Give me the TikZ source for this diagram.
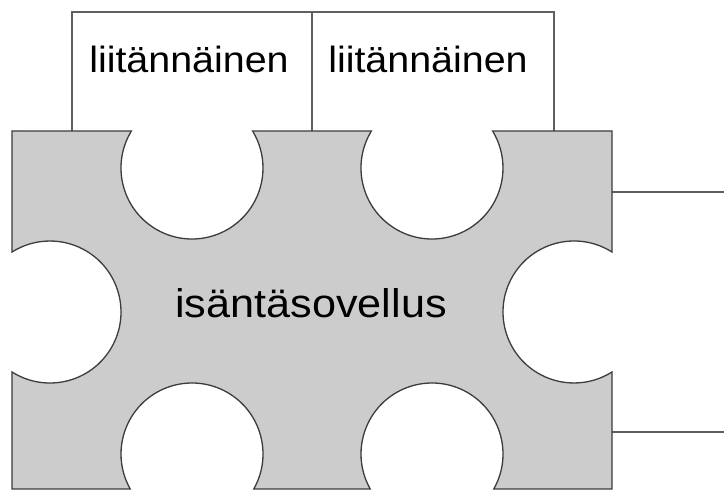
\documentclass[tikz,border=0pt]{standalone}
\usepackage{fontspec}
\setmainfont{Liberation Sans}[FakeStretch=1.08]
\begin{document}
\begin{tikzpicture}[x=1pt,y=1pt,
  outline/.style={draw={rgb,255:red,60;green,60;blue,60}, line width=1.3pt, line join=miter},
  boxline/.style={draw={rgb,255:red,95;green,95;blue,95}, line width=1.2pt},
  hostfill/.style={fill={rgb,255:red,204;green,204;blue,204}},
  toplabel/.style={anchor=base, inner sep=0pt, font=\fontsize{36.5}{40}\selectfont},
  hostlabel/.style={anchor=base, inner sep=0pt, font=\fontsize{40}{44}\selectfont}]
\useasboundingbox (0,0) rectangle (724,491);

% notch centres (radius 71)
\coordinate (t1) at (192,323);
\coordinate (t2) at (432,323);
\coordinate (lf) at (50,179);
\coordinate (rt) at (574,179);
\coordinate (b1) at (192,37);
\coordinate (b2) at (432,37);

% plug-in boxes (open at the bottom, resting on the host)
\draw[boxline] (72,360) -- (72,479) -- (554,479) -- (554,360);
\draw[boxline] (312,479) -- (312,360);
% box on the right side
\draw[boxline] (612,299) -- (724,299);
\draw[boxline] (612,59) -- (724,59);

% host application: rectangle with circular sockets
\path[outline, hostfill]
  (12,360)
  -- ([shift={(148.6:71)}]t1) arc[start angle=148.6, end angle=391.4, radius=71]
  -- ([shift={(148.6:71)}]t2) arc[start angle=148.6, end angle=391.4, radius=71]
  -- (612,360)
  -- ([shift={(57.6:71)}]rt) arc[start angle=57.6, end angle=302.4, radius=71]
  -- (612,2)
  -- ([shift={(-29.5:71)}]b2) arc[start angle=-29.5, end angle=209.5, radius=71]
  -- ([shift={(-29.5:71)}]b1) arc[start angle=-29.5, end angle=209.5, radius=71]
  -- (12,2)
  -- ([shift={(237.6:71)}]lf) arc[start angle=237.6, end angle=482.4, radius=71]
  -- cycle;

\node[toplabel] (p1) at (189,418) {liitännäinen};
\node[toplabel] (p2) at (428,418) {liitännäinen};
\node[hostlabel] (host) at (311,173) {isäntäsovellus};
\end{tikzpicture}
\end{document}
